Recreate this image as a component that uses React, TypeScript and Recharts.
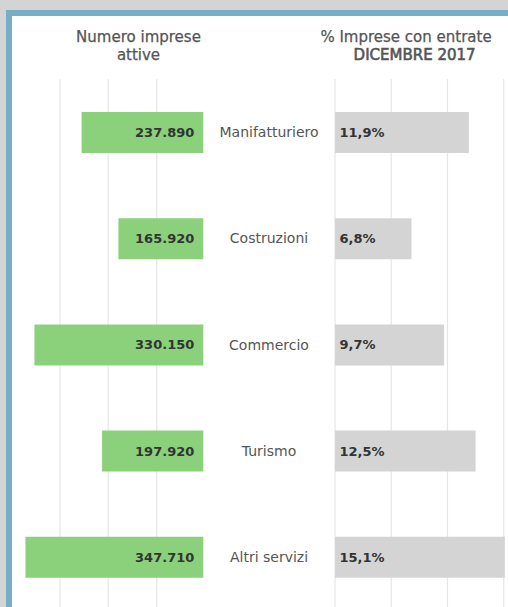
import { Bar, BarChart, CartesianGrid, LabelList, ReferenceLine, XAxis, YAxis } from "recharts";

const settori = ["Manifatturiero", "Costruzioni", "Commercio", "Turismo", "Altri servizi"];
const impreseAttive = [237890, 165920, 330150, 197920, 347710];
const pctEntrate = [11.9, 6.8, 9.7, 12.5, 15.1];
const impreseTicks = [91000, 186000, 280000];
const pctTicks = [0, 5, 10, 15];

const GREEN = "#8bd17c";
const GREY_BAR = "#d4d4d4";
const GRID = "#e6e6e6";
const FRAME = "#78adc6";
const FONT = "'DejaVu Sans', Verdana, sans-serif";

const data = settori.map((name, i) => ({
  name,
  imprese: impreseAttive[i],
  pct: pctEntrate[i],
}));

const fmtThousands = (v: number) =>
  String(v).replace(/\B(?=(\d{3})+(?!\d))/g, ".");
const fmtPct = (v: number) => v.toFixed(1).replace(".", ",") + "%";

function ImpreseLabel({ x, y, width, height, value }: any) {
  const right = Math.max(x, x + width);
  return (
    <text
      x={right - 9}
      y={y + height / 2}
      textAnchor="end"
      dominantBaseline="central"
      fill="#333"
      fontSize={13}
      fontWeight="bold"
      fontFamily={FONT}
    >
      {fmtThousands(value)}
    </text>
  );
}

function PctLabel({ x, y, width, height, value }: any) {
  const left = Math.min(x, x + width);
  return (
    <text
      x={left + 4.5}
      y={y + height / 2}
      textAnchor="start"
      dominantBaseline="central"
      fill="#333"
      fontSize={13}
      fontWeight="bold"
      fontFamily={FONT}
    >
      {fmtPct(value)}
    </text>
  );
}

function SettoreTick({ x, y, payload }: any) {
  // axis is 132 wide, the sector name sits centred in it
  return (
    <text
      x={x - 66}
      y={y}
      textAnchor="middle"
      dominantBaseline="central"
      fill="#555"
      fontSize={14}
      fontFamily={FONT}
    >
      {payload.value}
    </text>
  );
}

const header: React.CSSProperties = {
  position: "absolute",
  width: 200,
  textAlign: "center",
  color: "#555",
  fontSize: 15,
  lineHeight: "18px",
  whiteSpace: "nowrap",
  WebkitTextStroke: "0.25px #555",
};

const leftChart = {
  width: 204,
  height: 620,
  layout: "vertical" as const,
  data,
  margin: { top: 79, right: 0.7, bottom: 10, left: 12 },
};

export default function App() {
  return (
    <div
      style={{
        position: "absolute",
        left: 0,
        top: 0,
        width: 508,
        height: 607,
        overflow: "hidden",
        background: "#d4d4d4",
        fontFamily: FONT,
      }}
    >
      <div
        style={{
          position: "absolute",
          left: 6,
          top: 10,
          right: 0,
          bottom: 0,
          boxSizing: "border-box",
          background: "#fff",
          borderLeft: `6px solid ${FRAME}`,
          borderTop: `6px solid ${FRAME}`,
        }}
      />

      <div style={{ ...header, left: 38.5, top: 28 }}>
        Numero imprese
        <br />
        attive
      </div>
      <div style={{ ...header, left: 306, top: 28 }}>% Imprese con entrate</div>
      <div style={{ ...header, left: 314.6, top: 46, WebkitTextStroke: "0.6px #555" }}>
        DICEMBRE 2017
      </div>

      {/* grid layer for the left chart, drawn under the bars */}
      <div style={{ position: "absolute", left: 0, top: 0 }}>
        <BarChart {...leftChart}>
          <XAxis type="number" reversed domain={[0, 374000]} hide />
          <YAxis type="category" dataKey="name" hide />
          {impreseTicks.map((t) => (
            <ReferenceLine key={t} x={t} stroke={GRID} strokeWidth={1.2} />
          ))}
          <Bar dataKey="imprese" fill="none" barSize={41} isAnimationActive={false} />
        </BarChart>
      </div>

      <div style={{ position: "absolute", left: 0, top: 0 }}>
        <BarChart {...leftChart}>
          <XAxis type="number" reversed domain={[0, 374000]} hide />
          <YAxis type="category" dataKey="name" hide />
          <Bar dataKey="imprese" fill={GREEN} barSize={41} isAnimationActive={false}>
            <LabelList dataKey="imprese" content={<ImpreseLabel />} />
          </Bar>
        </BarChart>
      </div>

      <div style={{ position: "absolute", left: 203, top: 0 }}>
        <BarChart
          width={305}
          height={620}
          layout="vertical"
          data={data}
          margin={{ top: 79, right: 0, bottom: 10, left: 0 }}
        >
          <CartesianGrid
            horizontal={false}
            verticalValues={pctTicks}
            stroke={GRID}
            strokeWidth={1.2}
          />
          <XAxis type="number" domain={[0, 15.38]} hide />
          <YAxis
            type="category"
            dataKey="name"
            width={132}
            axisLine={false}
            tickLine={false}
            tickSize={0}
            tickMargin={0}
            tick={<SettoreTick />}
          />
          <Bar dataKey="pct" fill={GREY_BAR} barSize={41} isAnimationActive={false}>
            <LabelList dataKey="pct" content={<PctLabel />} />
          </Bar>
        </BarChart>
      </div>
    </div>
  );
}
